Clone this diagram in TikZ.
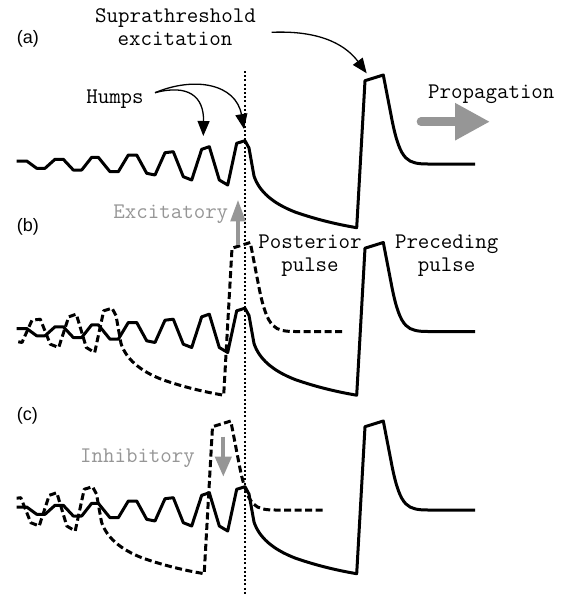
\documentclass[tikz,border=0pt]{standalone}
\usepackage{fontspec}
\setmainfont{Liberation Sans}
\usetikzlibrary{arrows.meta}
\definecolor{arrgray}{RGB}{150,150,150}
\tikzset{
  trace/.style={line width=3pt, line join=round},
  dtrace/.style={line width=3pt, dash pattern=on 7pt off 3.5pt, line join=round},
  txt/.style={inner sep=0pt, anchor=base, font=\ttfamily\fontsize{22.3}{24}\selectfont},
  gtxt/.style={txt, text=arrgray},
  panel/.style={inner sep=0pt, anchor=base west, font=\fontsize{18}{20}\selectfont},
  blackarrow/.style={line width=1.3pt, -{Triangle[length=15pt,width=12pt]}},
}
\def\tracepath{(16.7,161) -- (26.7,161) -- (36.7,168.3) -- (45,168.3) -- (55,159.3) -- (63.3,159.3) -- (73.3,170) -- (81.7,170) -- (91.7,157.3) -- (98.3,157.3) -- (110,171.7) -- (118.3,171.7) -- (128.3,155) -- (136.7,155) -- (146.7,173.3) -- (155,175) -- (165,152.7) -- (173.3,151.7) -- (183.3,176.7) -- (191.7,180) -- (201.7,149.3) -- (209.3,146.7) -- (219.3,180) -- (227.7,185) -- (236.7,143.3) -- (245,140.7) -- (249,148) -- (254,176) .. controls (259,191) and (272,203) .. (295,212) .. controls (315,219) and (335,224) .. (356.7,227.7) -- (365,80.7) -- (383.3,75) -- (392,120) .. controls (396,140) and (400,152) .. (406,158) .. controls (411,163) and (418,164) .. (428,164) -- (475,164)}
\begin{document}
\begin{tikzpicture}[x=1pt,y=-1pt]
\useasboundingbox (0,0) rectangle (567,595);
% dotted vertical line
\coordinate (dtop) at (245,71);
\coordinate (dbot) at (245,595);
\draw[line width=1.3pt, dash pattern=on 2pt off 2.2pt] (dtop) -- (dbot);
% solid traces
\draw[trace] \tracepath;
\begin{scope}[shift={(0,167.5)}]
  \draw[trace] \tracepath;
\end{scope}
\begin{scope}[shift={(0,346)}]
  \draw[trace] \tracepath;
\end{scope}
% dashed traces
\begin{scope}[shift={(-133,167.5)}]
  \clip (149.5,0) rectangle (600,300);
  \draw[dtrace] \tracepath;
\end{scope}
\begin{scope}[shift={(-152.5,346)}]
  \clip (169,0) rectangle (600,300);
  \draw[dtrace] \tracepath;
\end{scope}
% panel labels
\node[panel] (la) at (16.7,43) {(a)};
\node[panel] (lb) at (16.7,231.5) {(b)};
\node[panel] (lc) at (16.7,420) {(c)};
% texts
\node[txt] (supra1) at (175.5,22.7) {Suprathreshold};
\node[txt] (supra2) at (175,45) {excitation};
\node[txt] (humps) at (115,103) {Humps};
\node[txt] (prop) at (491.3,98.3) {Propagation};
\node[gtxt] (exc) at (170.8,218.3) {Excitatory};
\node[txt] (post1) at (310,248.3) {Posterior};
\node[txt] (post2) at (310,271) {pulse};
\node[txt] (prec1) at (446.7,248.3) {Preceding};
\node[txt] (prec2) at (446.7,271) {pulse};
\node[gtxt] (inh) at (137.5,462.7) {Inhibitory};
% black arrows
\coordinate (supraS) at (271.7,32.3);
\coordinate (supraT) at (366.7,73.3);
\draw[blackarrow] (supraS) .. controls (325,30) and (348,48) .. (supraT);
\coordinate (humpS) at (155,92.7);
\coordinate (hump1T) at (203.3,136);
\coordinate (hump2T) at (244,129);
\draw[blackarrow] (humpS) .. controls (188,84) and (204,96) .. (hump1T);
\draw[blackarrow] (humpS) .. controls (195,76) and (236,84) .. (hump2T);
% grey arrows
\coordinate (propS) at (421,121.7);
\coordinate (propT) at (490,121.7);
\draw[arrgray, line width=8.7pt, line cap=round, -{Triangle[length=35pt,width=35pt]}] (propS) -- (propT);
\coordinate (excS) at (238,245);
\coordinate (excT) at (238,199.3);
\draw[arrgray, line width=4.7pt, -{Triangle[length=22pt,width=14pt]}] (excS) -- (excT);
\coordinate (inhS) at (223.3,436.7);
\coordinate (inhT) at (223.3,476.7);
\draw[arrgray, line width=4pt, -{Triangle[length=20pt,width=16pt]}] (inhS) -- (inhT);
\end{tikzpicture}
\end{document}
